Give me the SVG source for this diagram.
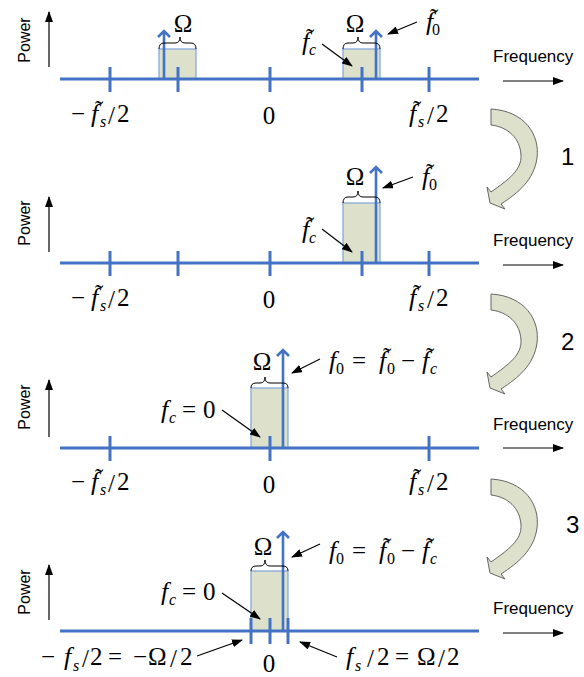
<svg xmlns="http://www.w3.org/2000/svg" width="584" height="677" viewBox="0 0 584 677">
<style>
.ax{stroke:#4472c4;stroke-width:3;fill:none}
.tk{stroke:#4472c4;stroke-width:3}
.box{fill:#dde0cb;stroke:#7ea3d9;stroke-width:1.2}
.sig{stroke:#4472c4;stroke-width:2.6;fill:none}
.br{fill:none;stroke:#000;stroke-width:1}
.ar{stroke:#000;stroke-width:1.2;fill:none;marker-end:url(#ah)}
.cv{fill:#dde0cb;stroke:#666;stroke-width:1}
.m{font-family:"Liberation Serif","Times New Roman",serif;font-size:25px;fill:#000}
.i{font-style:italic}
.f{font-style:italic;font-size:26px}
.s{font-size:16px}
.si{font-size:16px;font-style:italic}
.sans{font-family:"Liberation Sans",Arial,sans-serif;fill:#000}
.pw{font-size:16px}
.fq{font-size:17px}
.num{font-size:24px}
</style>
<defs>
<marker id="ah" markerWidth="11" markerHeight="8" refX="10" refY="4" orient="auto" markerUnits="userSpaceOnUse">
<path d="M0,0 L11,4 L0,8 z" fill="#000"/>
</marker>
<path id="curve" d="M491 109 C525 111 540 135 537 158 C534 180 518 193 501 204 L505 209 L490 203 L487 187 L491 192 C508 180 522 170 521 155 C520 138 508 127 491 125 Z"/>
</defs>

<g id="panel1">
<rect class="box" x="159" y="49" width="37" height="30"/>
<rect class="box" x="343" y="49" width="37" height="30"/>
<line class="ax" x1="60" y1="79" x2="479" y2="79"/>
<line class="tk" x1="110" y1="67" x2="110" y2="92"/>
<line class="tk" x1="178" y1="67" x2="178" y2="92"/>
<line class="tk" x1="270" y1="67" x2="270" y2="92"/>
<line class="tk" x1="362" y1="67" x2="362" y2="92"/>
<line class="tk" x1="429" y1="67" x2="429" y2="92"/>
<path class="sig" d="M164 79 V31 M158 37 L164 31 L170 37"/>
<path class="sig" d="M376 79 V31 M370 37 L376 31 L382 37"/>
<path class="br" d="M159 49 Q159 43 164 43 L175 43 Q180 43 180 37 Q180 43 185 43 L191 43 Q196 43 196 49"/>
<path class="br" d="M343 49 Q343 43 348 43 L353 43 Q358 43 358 37 Q358 43 363 43 L375 43 Q380 43 380 49"/>
<text class="m" x="183" y="32" text-anchor="middle">Ω</text>
<text class="m" x="355" y="32" text-anchor="middle">Ω</text>
<text class="m"><tspan class="f" x="302" y="50">f</tspan><tspan x="306" y="46">˜</tspan><tspan class="si" x="309" y="55">c</tspan></text>
<text class="m"><tspan class="f" x="426" y="30">f</tspan><tspan x="430" y="26">˜</tspan><tspan class="s" x="432" y="35">0</tspan></text>
<text class="m"><tspan x="71" y="122">−</tspan><tspan class="f" x="91" y="122">f</tspan><tspan x="95" y="118">˜</tspan><tspan class="si" x="100" y="127">s</tspan><tspan x="108" y="124">/</tspan><tspan x="117" y="122">2</tspan></text>
<text class="m" x="269" y="124" text-anchor="middle">0</text>
<text class="m"><tspan class="f" x="409" y="122">f</tspan><tspan x="413" y="118">˜</tspan><tspan class="si" x="418" y="127">s</tspan><tspan x="427" y="124">/</tspan><tspan x="436" y="122">2</tspan></text>
<text class="sans pw" transform="translate(30 40) rotate(-90)" text-anchor="middle">Power</text>
<text class="sans fq" x="493" y="62">Frequency</text>
</g>

<g id="panel2">
<rect class="box" x="343" y="203" width="37" height="60"/>
<line class="ax" x1="60" y1="263" x2="479" y2="263"/>
<line class="tk" x1="110" y1="251" x2="110" y2="276"/>
<line class="tk" x1="178" y1="251" x2="178" y2="276"/>
<line class="tk" x1="270" y1="251" x2="270" y2="276"/>
<line class="tk" x1="362" y1="251" x2="362" y2="276"/>
<line class="tk" x1="429" y1="251" x2="429" y2="276"/>
<path class="sig" d="M376 263 V167 M370 173 L376 167 L382 173"/>
<path class="br" d="M343 203 Q343 197 348 197 L353 197 Q358 197 358 191 Q358 197 363 197 L375 197 Q380 197 380 203"/>
<text class="m" x="355" y="185" text-anchor="middle">Ω</text>
<text class="m"><tspan class="f" x="302" y="238">f</tspan><tspan x="306" y="234">˜</tspan><tspan class="si" x="309" y="243">c</tspan></text>
<text class="m"><tspan class="f" x="422" y="185">f</tspan><tspan x="426" y="181">˜</tspan><tspan class="s" x="429" y="190">0</tspan></text>
<text class="m"><tspan x="71" y="306">−</tspan><tspan class="f" x="91" y="306">f</tspan><tspan x="95" y="302">˜</tspan><tspan class="si" x="100" y="311">s</tspan><tspan x="108" y="308">/</tspan><tspan x="117" y="306">2</tspan></text>
<text class="m" x="269" y="308" text-anchor="middle">0</text>
<text class="m"><tspan class="f" x="409" y="306">f</tspan><tspan x="413" y="302">˜</tspan><tspan class="si" x="418" y="311">s</tspan><tspan x="427" y="308">/</tspan><tspan x="436" y="306">2</tspan></text>
<text class="sans pw" transform="translate(30 223) rotate(-90)" text-anchor="middle">Power</text>
<text class="sans fq" x="493" y="246">Frequency</text>
</g>

<g id="panel3">
<rect class="box" x="251" y="388" width="37" height="60"/>
<line class="ax" x1="60" y1="448" x2="479" y2="448"/>
<line class="tk" x1="110" y1="436" x2="110" y2="461"/>
<line class="tk" x1="270" y1="436" x2="270" y2="461"/>
<line class="tk" x1="429" y1="436" x2="429" y2="461"/>
<path class="sig" d="M283 448 V350 M277 356 L283 350 L289 356"/>
<path class="br" d="M251 388 Q251 383 256 383 L260 383 Q265 383 265 377 Q265 383 270 383 L283 383 Q288 383 288 388"/>
<text class="m" x="262" y="370" text-anchor="middle">Ω</text>
<text class="m"><tspan class="f" x="161" y="418">f</tspan><tspan class="si" x="169" y="423">c</tspan><tspan x="182" y="418">=</tspan><tspan x="203" y="418">0</tspan></text>
<text class="m"><tspan class="f" x="329" y="369">f</tspan><tspan class="s" x="336" y="374">0</tspan><tspan x="352" y="369">=</tspan><tspan class="f" x="379" y="369">f</tspan><tspan x="383" y="365">˜</tspan><tspan class="s" x="387" y="374">0</tspan><tspan x="401" y="369">−</tspan><tspan class="f" x="422" y="369">f</tspan><tspan x="426" y="365">˜</tspan><tspan class="si" x="430" y="374">c</tspan></text>
<text class="m"><tspan x="71" y="490">−</tspan><tspan class="f" x="91" y="490">f</tspan><tspan x="95" y="486">˜</tspan><tspan class="si" x="100" y="495">s</tspan><tspan x="108" y="492">/</tspan><tspan x="117" y="490">2</tspan></text>
<text class="m" x="269" y="493" text-anchor="middle">0</text>
<text class="m"><tspan class="f" x="409" y="490">f</tspan><tspan x="413" y="486">˜</tspan><tspan class="si" x="418" y="495">s</tspan><tspan x="427" y="492">/</tspan><tspan x="436" y="490">2</tspan></text>
<text class="sans pw" transform="translate(30 407) rotate(-90)" text-anchor="middle">Power</text>
<text class="sans fq" x="493" y="430">Frequency</text>
</g>

<g id="panel4">
<rect class="box" x="251" y="571" width="37" height="60"/>
<line class="ax" x1="60" y1="631" x2="479" y2="631"/>
<line class="tk" x1="251" y1="618" x2="251" y2="644"/>
<line class="tk" x1="270" y1="618" x2="270" y2="644"/>
<line class="tk" x1="288" y1="618" x2="288" y2="644"/>
<path class="sig" d="M283 631 V532 M277 538 L283 532 L289 538"/>
<path class="br" d="M251 571 Q251 566 256 566 L260 566 Q265 566 265 560 Q265 566 270 566 L283 566 Q288 566 288 571"/>
<text class="m" x="263" y="555" text-anchor="middle">Ω</text>
<text class="m"><tspan class="f" x="161" y="600">f</tspan><tspan class="si" x="169" y="605">c</tspan><tspan x="182" y="600">=</tspan><tspan x="203" y="600">0</tspan></text>
<text class="m"><tspan class="f" x="329" y="559">f</tspan><tspan class="s" x="336" y="564">0</tspan><tspan x="352" y="559">=</tspan><tspan class="f" x="379" y="559">f</tspan><tspan x="383" y="555">˜</tspan><tspan class="s" x="387" y="564">0</tspan><tspan x="401" y="559">−</tspan><tspan class="f" x="422" y="559">f</tspan><tspan x="426" y="555">˜</tspan><tspan class="si" x="430" y="564">c</tspan></text>
<text class="m"><tspan x="41" y="665">−</tspan><tspan class="f" x="64" y="665">f</tspan><tspan class="si" x="73" y="671">s</tspan><tspan x="82" y="667">/</tspan><tspan x="90" y="665">2</tspan><tspan x="108" y="665">=</tspan><tspan x="133" y="665">−</tspan><tspan x="148" y="665">Ω</tspan><tspan x="170" y="667">/</tspan><tspan x="180" y="665">2</tspan></text>
<text class="m"><tspan class="f" x="346" y="665">f</tspan><tspan class="si" x="355" y="671">s</tspan><tspan x="367" y="667">/</tspan><tspan x="377" y="665">2</tspan><tspan x="395" y="665">=</tspan><tspan x="417" y="665">Ω</tspan><tspan x="438" y="667">/</tspan><tspan x="447" y="665">2</tspan></text>
<text class="m" x="269" y="672" text-anchor="middle">0</text>
<text class="sans pw" transform="translate(30 592) rotate(-90)" text-anchor="middle">Power</text>
<text class="sans fq" x="493" y="614">Frequency</text>
</g>

<g id="steps">
<use href="#curve" class="cv"/>
<use href="#curve" class="cv" transform="translate(0 185)"/>
<use href="#curve" class="cv" transform="translate(0 370)"/>
<text class="sans num" x="561" y="165">1</text>
<text class="sans num" x="561" y="350">2</text>
<text class="sans num" x="566" y="533">3</text>
</g>

<g id="connectors">
<line class="ar" x1="49" y1="67" x2="49" y2="12"/>
<line class="ar" x1="49" y1="252" x2="49" y2="197"/>
<line class="ar" x1="49" y1="437" x2="49" y2="380"/>
<line class="ar" x1="49" y1="620" x2="49" y2="565"/>
<line class="ar" x1="503" y1="81" x2="563" y2="81"/>
<line class="ar" x1="503" y1="265" x2="563" y2="265"/>
<line class="ar" x1="503" y1="448" x2="563" y2="448"/>
<line class="ar" x1="503" y1="633" x2="563" y2="633"/>
<line class="ar" x1="322" y1="44" x2="352" y2="66"/>
<line class="ar" x1="417" y1="22" x2="388" y2="34"/>
<line class="ar" x1="322" y1="229" x2="352" y2="252"/>
<line class="ar" x1="413" y1="177" x2="383" y2="188"/>
<line class="ar" x1="222" y1="410" x2="260" y2="437"/>
<line class="ar" x1="320" y1="359" x2="292" y2="373"/>
<line class="ar" x1="222" y1="593" x2="260" y2="619"/>
<line class="ar" x1="320" y1="544" x2="292" y2="557"/>
<line class="ar" x1="197" y1="656" x2="242" y2="640"/>
<line class="ar" x1="337" y1="657" x2="300" y2="642"/>
</g>
</svg>
